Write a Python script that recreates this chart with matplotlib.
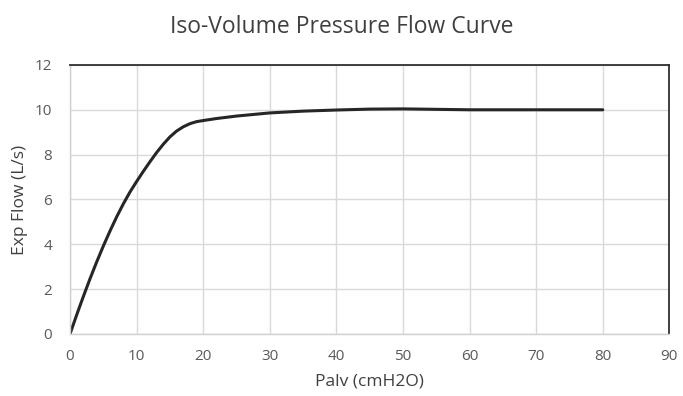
import matplotlib
matplotlib.use("Agg")
import matplotlib.pyplot as plt

# values
palv = [0, 1, 2, 3, 4, 5, 6, 7, 8, 9, 10, 11, 12, 13, 14, 15, 16, 17, 18, 19, 20,
        22, 25, 30, 35, 40, 45, 50, 55, 60, 70, 80]
flow = [0, 0.85, 1.67, 2.46, 3.21, 3.92, 4.59, 5.22, 5.8, 6.33, 6.8, 7.25, 7.68,
        8.09, 8.46, 8.79, 9.05, 9.24, 9.38, 9.47, 9.52, 9.61, 9.72, 9.86, 9.94,
        9.99, 10.03, 10.04, 10.02, 10.0, 10.0, 10.0]
x_ticks = [0, 10, 20, 30, 40, 50, 60, 70, 80, 90]
y_ticks = [0, 2, 4, 6, 8, 10, 12]

plt.rcParams['font.family'] = ['Open Sans', 'DejaVu Sans']

fig = plt.figure(figsize=(6.83, 3.96), dpi=100)
ax = fig.add_axes([0.1025, 0.1566, 0.8775, 0.6794])

ax.plot(palv, flow, color='#262626', lw=2.2, solid_capstyle='round',
        solid_joinstyle='round')

ax.set_xlim(0, 90)
ax.set_ylim(0, 12)
ax.set_xticks(x_ticks)
ax.set_yticks(y_ticks)
ax.grid(True, color='#d9d9d9', lw=1.0)
ax.set_axisbelow(True)
ax.tick_params(axis='x', length=0, labelsize=11, colors='#595959', pad=11)
ax.tick_params(axis='y', length=0, labelsize=11, colors='#595959', pad=13)

for side in ['left', 'bottom']:
    ax.spines[side].set_color('#d0d0d0')
    ax.spines[side].set_linewidth(1.0)
for side in ['top', 'right']:
    ax.spines[side].set_color('#303030')
    ax.spines[side].set_linewidth(1.3)

ax.set_xlabel('Palv (cmH2O)', fontsize=12.5, color='#404040', labelpad=7)
ax.set_ylabel('Exp Flow (L/s)', fontsize=12.5, color='#404040', labelpad=5)
fig.suptitle('Iso-Volume Pressure Flow Curve', x=0.5, y=0.932, va='center',
             fontsize=16.5, color='#404040')

fig.savefig('out.png', dpi=100)
